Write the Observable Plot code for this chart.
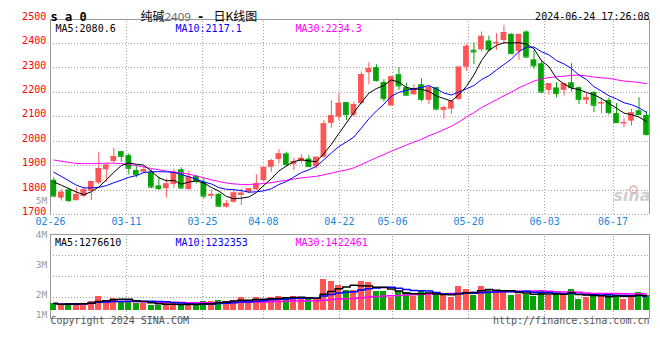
<!DOCTYPE html>
<html>
<head>
<meta charset="utf-8">
<script src="https://cdn.jsdelivr.net/npm/d3@7"></script>
<script src="https://cdn.jsdelivr.net/npm/@observablehq/plot@0.6"></script>
<style>
  html, body { margin: 0; padding: 0; background: #fff; }
  #chart { position: relative; width: 660px; height: 360px; overflow: hidden; }
</style>
</head>
<body>
<div id="chart"></div>
<script>
// ---------- data ----------
const dates = ["02-26","02-27","02-28","02-29",
  "03-01","03-04","03-05","03-06","03-07","03-08","03-11","03-12","03-13","03-14","03-15","03-18","03-19","03-20","03-21","03-22","03-25","03-26","03-27","03-28","03-29",
  "04-01","04-02","04-03","04-08","04-09","04-10","04-11","04-12","04-15","04-16","04-17","04-18","04-19","04-22","04-23","04-24","04-25","04-26","04-29","04-30",
  "05-06","05-07","05-08","05-09","05-10","05-13","05-14","05-15","05-16","05-17","05-20","05-21","05-22","05-23","05-24","05-27","05-28","05-29","05-30","05-31",
  "06-03","06-04","06-05","06-06","06-07","06-11","06-12","06-13","06-14","06-17","06-18","06-19","06-20","06-21","06-24"];

const open = [1840,1767,1801,1757,1774,1795,1829,1883,1917,1957,
  1941,1880,1873,1873,1817,1806,1823,1883,1802,1855,
  1832,1775,1782,1730,1750,1778,1791,1801,1839,1893,
  1925,1948,1904,1917,1927,1896,1934,2073,2098,2158,
  2106,2154,2280,2301,2240,2144,2272,2219,2190,2231,
  2167,2219,2126,2131,2171,2303,2372,2374,2410,2399,
  2412,2437,2367,2447,2333,2317,2208,2218,2208,2239,
  2219,2167,2199,2152,2167,2113,2071,2082,2124,2106];
const high = [1850,1801,1808,1809,1809,1836,1955,1904,1971,1957,
  1949,1900,1900,1883,1853,1846,1885,1891,1877,1859,
  1846,1798,1787,1757,1795,1805,1806,1863,1893,1925,
  1966,1955,1930,1945,1941,1934,2084,2166,2193,2158,
  2160,2283,2321,2313,2252,2263,2301,2238,2231,2256,
  2229,2219,2144,2167,2303,2396,2402,2447,2430,2440,
  2474,2440,2437,2451,2372,2331,2235,2240,2235,2317,
  2222,2195,2204,2177,2177,2154,2092,2131,2178,2122];
const low = [1772,1755,1749,1754,1768,1757,1823,1832,1910,1914,
  1862,1850,1866,1805,1798,1767,1808,1805,1798,1825,
  1764,1764,1730,1726,1746,1737,1785,1798,1832,1873,
  1907,1896,1880,1907,1893,1887,1930,2053,2084,2084,
  2098,2150,2231,2242,2160,2144,2208,2185,2188,2160,
  2150,2126,2090,2109,2167,2286,2313,2365,2365,2372,
  2395,2354,2331,2340,2294,2195,2188,2177,2185,2201,
  2150,2150,2117,2113,2106,2072,2056,2062,2106,2022];
const close = [1775,1791,1757,1782,1801,1835,1888,1902,1937,1938,
  1889,1863,1883,1812,1806,1825,1870,1808,1853,1836,
  1775,1782,1734,1744,1788,1787,1805,1825,1893,1921,
  1948,1904,1917,1930,1896,1934,2071,2104,2155,2109,
  2150,2272,2297,2248,2174,2263,2226,2188,2215,2171,
  2219,2131,2137,2163,2303,2388,2365,2429,2374,2403,
  2444,2358,2437,2344,2308,2201,2235,2195,2235,2219,
  2171,2178,2147,2158,2117,2076,2076,2116,2109,2027];

// moving-average lines as drawn in the picture
const ma5 = [1833,1820,1806,1792,1781.2,1793.2,1812.6,1841.6,1872.6,1900,
  1910.8,1905.8,1902,1877,1850.6,1837.8,1839.2,1824.2,1832.4,1838.4,
  1828.4,1810.8,1796,1774.2,1764.6,1767,1771.6,1789.8,1819.6,1846.2,
  1878.4,1898.2,1916.6,1924,1919,1916.2,1949.6,1987,2032,2074.6,
  2117.8,2158,2196.6,2215.2,2228.2,2250.8,2241.6,2219.8,2213.2,2212.6,
  2203.8,2184.8,2174.6,2164.2,2190.6,2224.4,2271.2,2329.6,2371.8,2391.8,
  2403,2401.6,2403.2,2397.2,2378.2,2329.6,2305,2256.6,2234.8,2217,
  2211,2199.6,2190,2174.6,2154.2,2135.2,2114.8,2108.6,2098.8,2080.8];
const ma10 = [1873,1856,1838,1820,1809,1809,1811,1818,1830,1840.6,
  1852,1859.2,1871.8,1874.8,1875.3,1874.3,1872.5,1863.1,1854.7,1844.5,
  1833.1,1825,1810.1,1803.3,1801.5,1797.7,1791.2,1792.9,1796.9,1805.4,
  1822.7,1834.9,1853.2,1871.8,1882.6,1897.3,1923.9,1951.8,1978,1996.8,
  2017,2053.8,2091.8,2123.6,2151.4,2184.3,2199.8,2208.2,2214.2,2220.4,
  2227.3,2213.2,2197.2,2188.7,2201.6,2214.1,2228,2252.1,2268,2291.2,
  2313.7,2336.4,2366.4,2384.5,2385,2366.3,2353.3,2329.9,2316,2297.6,
  2270.3,2252.3,2223.3,2204.7,2185.6,2173.1,2157.2,2149.3,2136.7,2117.5];
const ma30 = [1923,1918,1913,1909,1908,1908,1909,1910,1910,1908,
  1905,1900,1894,1888,1883,1878,1874,1870,1865,1858,
  1850,1842,1835,1829,1825,1823,1823,1824,1827,1830.2,
  1835.9,1839.7,1845,1850,1853.1,1856.4,1862.5,1869.3,1876.5,1882.2,
  1890.9,1904.6,1918.4,1932.9,1945.2,1959.8,1971.6,1984.3,1996.4,2007.5,
  2022.3,2034,2047.4,2061.4,2078.5,2098.6,2117.2,2137.4,2153.4,2169.5,
  2186,2201.1,2218.5,2232.3,2246,2254.9,2260.4,2263.4,2266.1,2269.7,
  2270.4,2267.3,2262.3,2259.3,2257.4,2251.2,2246.2,2243.8,2240.2,2235.4];

const volume = [620000,480000,620000,620000,620000,820000,1240000,900000,1070000,820000,
  820000,620000,620000,480000,480000,620000,620000,480000,480000,480000,
  820000,760000,900000,760000,900000,1160000,760000,1160000,900000,1160000,
  1240000,1050000,1240000,1050000,960000,1050000,2680000,2460000,2180000,1690000,
  1750000,2510000,2370000,1610000,1610000,1130000,1670000,1550000,1240000,1610000,
  1410000,1300000,1300000,1130000,2090000,1840000,1330000,2090000,1690000,1750000,
  1610000,1330000,1410000,1410000,1240000,1670000,1330000,1410000,1330000,1840000,
  990000,1100000,1190000,1240000,1450000,1330000,990000,1190000,1580000,1290000];

const priceTicks = [1700,1800,1900,2000,2100,2200,2300,2400,2500];
const dateTickLabels = ["02-26","03-11","03-25","04-08","04-22","05-06","05-20","06-03","06-17"];
const priceMaLegend = [2080.6, 2117.1, 2234.3];
const volMaLegend = [1276610, 1232353, 1422461];
const volLabels = ["5M","4M","3M","2M","1M"];

// ---------- styling ----------
const RED = "#ff5555", GREEN = "#05a305";
const MONO = "DejaVu Sans Mono";
const CJK = "Noto Sans CJK SC";
const GRID = {stroke: "#a0a0a0", strokeDasharray: "1,2", shapeRendering: "crispEdges"};
const FRAME = "#999";
const MA_COLORS = ["#000000", "#0000ff", "#ff00ff"];

const candles = dates.map((d, i) => ({
  i, date: d, open: open[i], high: high[i], low: low[i], close: close[i],
  vol: volume[i], ma5: ma5[i], ma10: ma10[i], ma30: ma30[i]
}));
const col = d => d.close >= d.open ? RED : GREEN;
const half = 0.38;

// Sina's date grid runs on a slightly wider step than the candles
const gridX = i => i * 1.0133 - 0.44;
const dateTicks = dateTickLabels.map(t => ({label: t, i: dates.indexOf(t)}));

const xScale = {type: "linear", domain: [-0.44, 79.4], axis: null};

// ---------- price panel ----------
const main = Plot.plot({
  width: 660, height: 360,
  marginTop: 18.5, marginBottom: 146, marginLeft: 50, marginRight: 11,
  x: xScale,
  y: {domain: [1700, 2500], axis: null},
  color: {type: "identity"},
  style: {background: "white", fontFamily: MONO, fontSize: "10px", overflow: "visible"},
  marks: [
    Plot.ruleY(priceTicks.slice(0, -1), GRID),
    Plot.ruleX(dateTicks, {x: d => gridX(d.i), y1: 1700, y2: 2500, ...GRID}),
    Plot.ruleY([2500], {stroke: FRAME, shapeRendering: "crispEdges"}),
    Plot.ruleX([-0.44, 79.4], {y1: 1700, y2: 2500, stroke: FRAME, shapeRendering: "crispEdges"}),
    Plot.axisY({ticks: priceTicks, anchor: "left", tickSize: 0, tickPadding: 4.3, dy: -2.5,
      tickFormat: d => String(d), fill: "#ff0000", fontSize: 10, fontFamily: MONO}),
    Plot.text(dateTicks, {x: d => gridX(d.i), text: "label", frameAnchor: "bottom", dy: 10.5,
      fill: "#1c84d9", fontSize: 10, fontFamily: MONO}),
    // watermark
    Plot.text(["sina"], {frameAnchor: "bottom-right", dx: 1, dy: -14, textAnchor: "end",
      fill: "#cfcfcf", fontSize: 16, fontWeight: "bold", fontStyle: "italic", fontFamily: "DejaVu Sans"}),
    Plot.dot([0], {frameAnchor: "bottom-right", dx: -16, dy: -25, r: 3.5, stroke: "#e8b0b0", strokeWidth: 1.5, fill: "none"}),
    // candles
    Plot.ruleX(candles, {x: "i", y1: "low", y2: "high", stroke: col, strokeWidth: 1}),
    Plot.rect(candles, {x1: d => d.i - half, x2: d => d.i + half, y1: "open", y2: "close", fill: col}),
    Plot.ruleY(candles, {x1: d => d.i - half, x2: d => d.i + half, y: "close", stroke: col}),
    // moving averages
    Plot.line(candles, {x: "i", y: "ma30", stroke: MA_COLORS[2], strokeWidth: 1}),
    Plot.line(candles, {x: "i", y: "ma10", stroke: MA_COLORS[1], strokeWidth: 1}),
    Plot.line(candles, {x: "i", y: "ma5", stroke: MA_COLORS[0], strokeWidth: 1}),
    // legend
    Plot.text([`MA5:${priceMaLegend[0].toFixed(1)}`], {frameAnchor: "top-left", dx: 5, dy: 5.5, textAnchor: "start", fill: MA_COLORS[0], fontSize: 10, fontFamily: MONO}),
    Plot.text([`MA10:${priceMaLegend[1].toFixed(1)}`], {frameAnchor: "top-left", dx: 125, dy: 5.5, textAnchor: "start", fill: MA_COLORS[1], fontSize: 10, fontFamily: MONO}),
    Plot.text([`MA30:${priceMaLegend[2].toFixed(1)}`], {frameAnchor: "top-left", dx: 245, dy: 5.5, textAnchor: "start", fill: MA_COLORS[2], fontSize: 10, fontFamily: MONO}),
    // header texts
    Plot.text(["s a 0"], {frameAnchor: "top-left", dx: 0, dy: -6.5, textAnchor: "start", fill: "#000", fontSize: 12, fontWeight: "bold", fontFamily: MONO}),
    Plot.text(["纯碱"], {frameAnchor: "top-left", dx: 114, dy: -6.5, textAnchor: "end", fill: "#000", fontSize: 12, fontFamily: CJK}),
    Plot.text(["2409"], {frameAnchor: "top-left", dx: 114, dy: -6.5, textAnchor: "start", fill: "#666", fontSize: 11.5, fontFamily: "Noto Sans"}),
    Plot.text(["-"], {frameAnchor: "top-left", dx: 150, dy: -6.5, textAnchor: "middle", fill: "#000", fontSize: 12, fontWeight: "bold", fontFamily: MONO}),
    Plot.text(["日K线图"], {frameAnchor: "top-left", dx: 163, dy: -6.5, textAnchor: "start", fill: "#000", fontSize: 12, fontFamily: CJK}),
    Plot.text(["2024-06-24 17:26:08"], {frameAnchor: "top-right", dx: 0, dy: -6.5, textAnchor: "end", fill: "#000", fontSize: 10, fontFamily: MONO})
  ]
});

// ---------- volume panel ----------
const vDomain = [-0.65e6, 6.45e6];
const volGrid = [0.25, 0.5, 0.75].map(q => vDomain[0] + (vDomain[1] - vDomain[0]) * q);

const volMa = (k, stroke) => Plot.line(candles,
  Plot.windowY({k, anchor: "end", reduce: "mean"}, {x: "i", y: "vol", stroke, strokeWidth: 1.5, curve: "step"}));

// sina's volume labels: 30px apart, the lowest one held at the panel bottom
const volLabelDy = i => i === 0 ? -37 : Math.min(-33 + 30 * i, 77);

const vol = Plot.plot({
  width: 660, height: 360,
  marginTop: 234, marginBottom: 42, marginLeft: 50, marginRight: 11,
  x: xScale,
  y: {domain: vDomain, axis: null},
  color: {type: "identity"},
  style: {background: "transparent", position: "absolute", top: "0px", left: "0px", fontFamily: MONO, fontSize: "10px", overflow: "visible"},
  marks: [
    Plot.ruleY(volGrid, GRID),
    Plot.ruleX(dateTicks, {x: d => gridX(d.i), y1: vDomain[0], y2: vDomain[1], ...GRID}),
    Plot.frame({stroke: FRAME, shapeRendering: "crispEdges"}),
    Plot.rect(candles, {x1: d => d.i - 0.4, x2: d => d.i + 0.4, y1: 0, y2: "vol", fill: col, shapeRendering: "crispEdges"}),
    volMa(30, MA_COLORS[2]),
    volMa(10, MA_COLORS[1]),
    volMa(5, MA_COLORS[0]),
    Plot.text([`MA5:${volMaLegend[0]}`], {frameAnchor: "top-left", dx: 4.5, dy: 4.5, textAnchor: "start", fill: MA_COLORS[0], fontSize: 10, fontFamily: MONO}),
    Plot.text([`MA10:${volMaLegend[1]}`], {frameAnchor: "top-left", dx: 125, dy: 4.5, textAnchor: "start", fill: MA_COLORS[1], fontSize: 10, fontFamily: MONO}),
    Plot.text([`MA30:${volMaLegend[2]}`], {frameAnchor: "top-left", dx: 245, dy: 4.5, textAnchor: "start", fill: MA_COLORS[2], fontSize: 10, fontFamily: MONO}),
    ...volLabels.map((t, i) => Plot.text([t], {frameAnchor: "top-left", dx: -3.3, dy: volLabelDy(i),
      textAnchor: "end", fill: "#999", fontSize: 9.5, fontFamily: MONO})),
    Plot.text(["Copyright 2024 SINA.COM"], {frameAnchor: "bottom-left", dy: 5.5, textAnchor: "start", fill: "#555", fontSize: 10, fontFamily: MONO}),
    Plot.text(["http://finance.sina.com.cn"], {frameAnchor: "bottom-right", dy: 5.5, textAnchor: "end", fill: "#555", fontSize: 10, fontFamily: MONO})
  ]
});

const chart = document.getElementById("chart");
chart.appendChild(main);
chart.appendChild(vol);
</script>
</body>
</html>
